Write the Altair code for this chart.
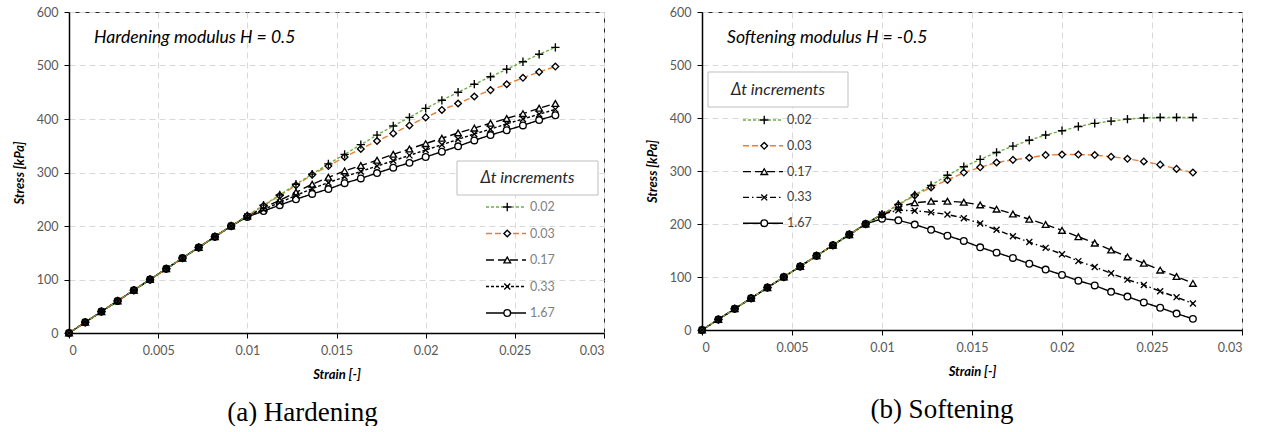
import altair as alt
import pandas as pd

# ---------------- data ----------------
strain = [0.0, 0.000909, 0.001818, 0.002727, 0.003636, 0.004545, 0.005455, 0.006364,
          0.007273, 0.008182, 0.009091, 0.01, 0.010909, 0.011818, 0.012727, 0.013636,
          0.014545, 0.015455, 0.016364, 0.017273, 0.018182, 0.019091, 0.02, 0.020909,
          0.021818, 0.022727, 0.023636, 0.024545, 0.025455, 0.026364, 0.027273]

elastic = [0, 20, 40, 60, 80, 100, 120, 140, 160, 180, 200]

series_names = ["0.02", "0.03", "0.17", "0.33", "1.67"]
marker_names = ["m0.02", "m0.03", "m0.17", "m0.33", "m1.67"]

# Hardening (H = 0.5)
hard_002 = elastic + [219, 239, 258, 278, 297, 316, 334, 352, 370, 387, 403, 420, 435, 450, 465, 479, 493, 507, 521, 534]
hard_003 = elastic + [219, 238, 257, 276, 296, 312, 329, 344, 359, 373, 388, 403, 417, 429, 442, 454, 465, 477, 488, 498]
hard_017 = elastic + [219, 234, 248, 263, 278, 291, 303, 313, 323, 334, 344, 354, 364, 374, 383, 392, 401, 410, 420, 429]
hard_033 = elastic + [218, 231, 244, 257, 270, 281, 292, 302, 312, 322, 332, 342, 352, 362, 372, 381, 391, 400, 409, 418]
hard_167 = elastic + [217, 228, 239, 250, 260, 269, 280, 289, 299, 309, 318, 329, 339, 349, 360, 370, 379, 388, 398, 407]

# Softening (H = -0.5)
soft_002 = elastic + [218, 237, 255, 273, 292, 308, 322, 335, 347, 358, 368, 376, 384, 390, 394, 398, 400, 401, 401, 401]
soft_003 = elastic + [218, 236, 254, 269, 283, 297, 307, 316, 321, 325, 330, 331, 331, 330, 327, 323, 318, 312, 304, 297]
soft_017 = elastic + [218, 232, 240, 243, 243, 241, 236, 228, 219, 209, 199, 188, 176, 164, 151, 138, 126, 113, 101, 88]
soft_033 = elastic + [218, 226, 225, 222, 218, 211, 201, 189, 177, 166, 155, 143, 130, 119, 107, 95, 85, 73, 62, 50]
soft_167 = elastic + [210, 207, 199, 189, 178, 168, 156, 146, 136, 125, 114, 104, 93, 84, 72, 63, 52, 42, 31, 21]

x_ticks = [0, 0.005, 0.01, 0.015, 0.02, 0.025, 0.03]
y_ticks = [0, 100, 200, 300, 400, 500, 600]

# ---------------- styling ----------------
FONT = "Lato"
line_colors = ["#70AD47", "#ED7D31", "#000000", "#000000", "#000000"]
marker_strokes = ["#000000"] * 5
plus_path = "M-1.25,0L1.25,0M0,-1.25L0,1.25"
x_path = "M-0.9,-0.9L0.9,0.9M-0.9,0.9L0.9,-0.9"
shapes = [plus_path, "diamond", "triangle-up", x_path, "circle"]
draw_rank = {"1.67": 0, "0.17": 1, "0.03": 2, "0.33": 3, "0.02": 4}


def make_df(values):
    rows = []
    for name, mname, vals in zip(series_names, marker_names, values):
        for k, (s, v) in enumerate(zip(strain, vals)):
            rows.append({"strain": s, "stress": v, "series": name, "series_s": mname,
                         "rank": draw_rank[name], "k": k})
    df = pd.DataFrame(rows)
    return df.sort_values(["rank", "k"]).reset_index(drop=True)


def panel(df, dashes, title_text, caption, leg_x, leg_y, row_pad, box, label_color,
          width, height, cap_dx):
    x = alt.X("strain:Q", scale=alt.Scale(domain=[0, 0.03], nice=False, zero=False),
              axis=alt.Axis(values=x_ticks, format="~g", title="Strain [-]"))
    y = alt.Y("stress:Q", scale=alt.Scale(domain=[0, 600], nice=False),
              axis=alt.Axis(values=y_ticks, title="Stress [kPa]"))

    leg_common = dict(title=None, orient="none", legendY=leg_y, clipHeight=20,
                      rowPadding=row_pad, padding=0, labelFont=FONT, labelFontSize=12.5,
                      labelOffset=3)
    leg_a = alt.Legend(legendX=leg_x, symbolType="stroke", symbolSize=1600,
                       symbolStrokeWidth=1.4, labelColor=label_color, **leg_common)
    leg_b = alt.Legend(legendX=leg_x + 16, symbolSize=44, symbolStrokeWidth=1.35,
                       symbolFillColor="white", symbolStrokeColor="black",
                       labelExpr="''", **leg_common)

    lines = alt.Chart(df).mark_line(strokeWidth=1.4).encode(
        x=x, y=y,
        color=alt.Color("series:N", scale=alt.Scale(domain=series_names, range=line_colors),
                        legend=leg_a),
        strokeDash=alt.StrokeDash("series:N", scale=alt.Scale(domain=series_names, range=dashes),
                                  legend=leg_a),
        order="k:Q",
    )
    points = alt.Chart(df).mark_point(filled=False, fill="white",
                                      strokeWidth=1.35, size=44, opacity=1).encode(
        x=x, y=y,
        shape=alt.Shape("series_s:N", scale=alt.Scale(domain=marker_names, range=shapes),
                        legend=leg_b),
        stroke=alt.Stroke("series_s:N", scale=alt.Scale(domain=marker_names, range=marker_strokes),
                          legend=leg_b),
    )

    bx0, by0, bx1, by1 = box
    box_df = pd.DataFrame({"t": ["\u0394t increments"]})
    box_rect = alt.Chart(box_df).mark_rect(fill="white", stroke="#BFBFBF", strokeWidth=1).encode(
        x=alt.value(bx0), x2=alt.value(bx1), y=alt.value(by0), y2=alt.value(by1))
    box_text = alt.Chart(box_df).mark_text(font=FONT, fontStyle="italic", fontSize=16.3,
                                           align="center", baseline="middle",
                                           color="#262626").encode(
        x=alt.value((bx0 + bx1) / 2), y=alt.value((by0 + by1) / 2), text="t:N")

    title_df = pd.DataFrame({"t": [title_text]})
    title_mark = alt.Chart(title_df).mark_text(font=FONT, fontStyle="italic", fontSize=17.6,
                                               align="left", baseline="alphabetic",
                                               color="#000000").encode(
        x=alt.value(25), y=alt.value(31), text="t:N")

    return alt.layer(lines, points, box_rect, box_text, title_mark).properties(
        width=width, height=height,
        title=alt.TitleParams(caption, orient="bottom", anchor="middle", font="Liberation Serif",
                              fontSize=27, fontWeight="normal", color="#000000", dx=cap_dx,
                              offset=18),
    )


hard_df = make_df([hard_002, hard_003, hard_017, hard_033, hard_167])
soft_df = make_df([soft_002, soft_003, soft_017, soft_033, soft_167])

dash_hard = [[3, 2], [6, 3], [8, 4], [3, 2], [1, 0]]
dash_soft = [[3, 2], [6, 3], [8, 4], [6, 3, 1.5, 3], [1, 0]]

left = panel(hard_df, dash_hard, "Hardening modulus H = 0.5", "(a) Hardening",
             416, 185, 6.5, (388, 149, 529, 183), "#7F7F7F", 535, 321, -34)
right = panel(soft_df, dash_soft, "Softening modulus H = -0.5", "(b) Softening",
              40, 98, 5.8, (6, 60, 146, 95), "#404040", 540, 318, -30)

chart = alt.hconcat(left, right, spacing=40).resolve_scale(
    color="independent", strokeDash="independent", shape="independent", stroke="independent",
    x="independent", y="independent"
).resolve_legend(
    color="independent", strokeDash="independent", shape="independent", stroke="independent"
).properties(
    padding={"left": 12, "top": 5, "right": 5, "bottom": 0}
).configure_view(
    stroke="#262626", strokeWidth=1
).configure_axis(
    grid=True, gridColor="#D9D9D9", gridDash=[6, 4], gridWidth=1,
    domainColor="#000000", domainWidth=1.5, tickColor="#000000", tickSize=5,
    labelFont=FONT, labelFontSize=12.5, labelColor="#595959", labelPadding=6,
    titleFont=FONT, titleFontSize=13, titleFontWeight="bold", titleFontStyle="italic",
    titleColor="#000000", titlePadding=12
).configure_axisY(
    labelPadding=6, titlePadding=10
)

chart.save("out.html", embed_options={"renderer": "svg", "actions": False})
